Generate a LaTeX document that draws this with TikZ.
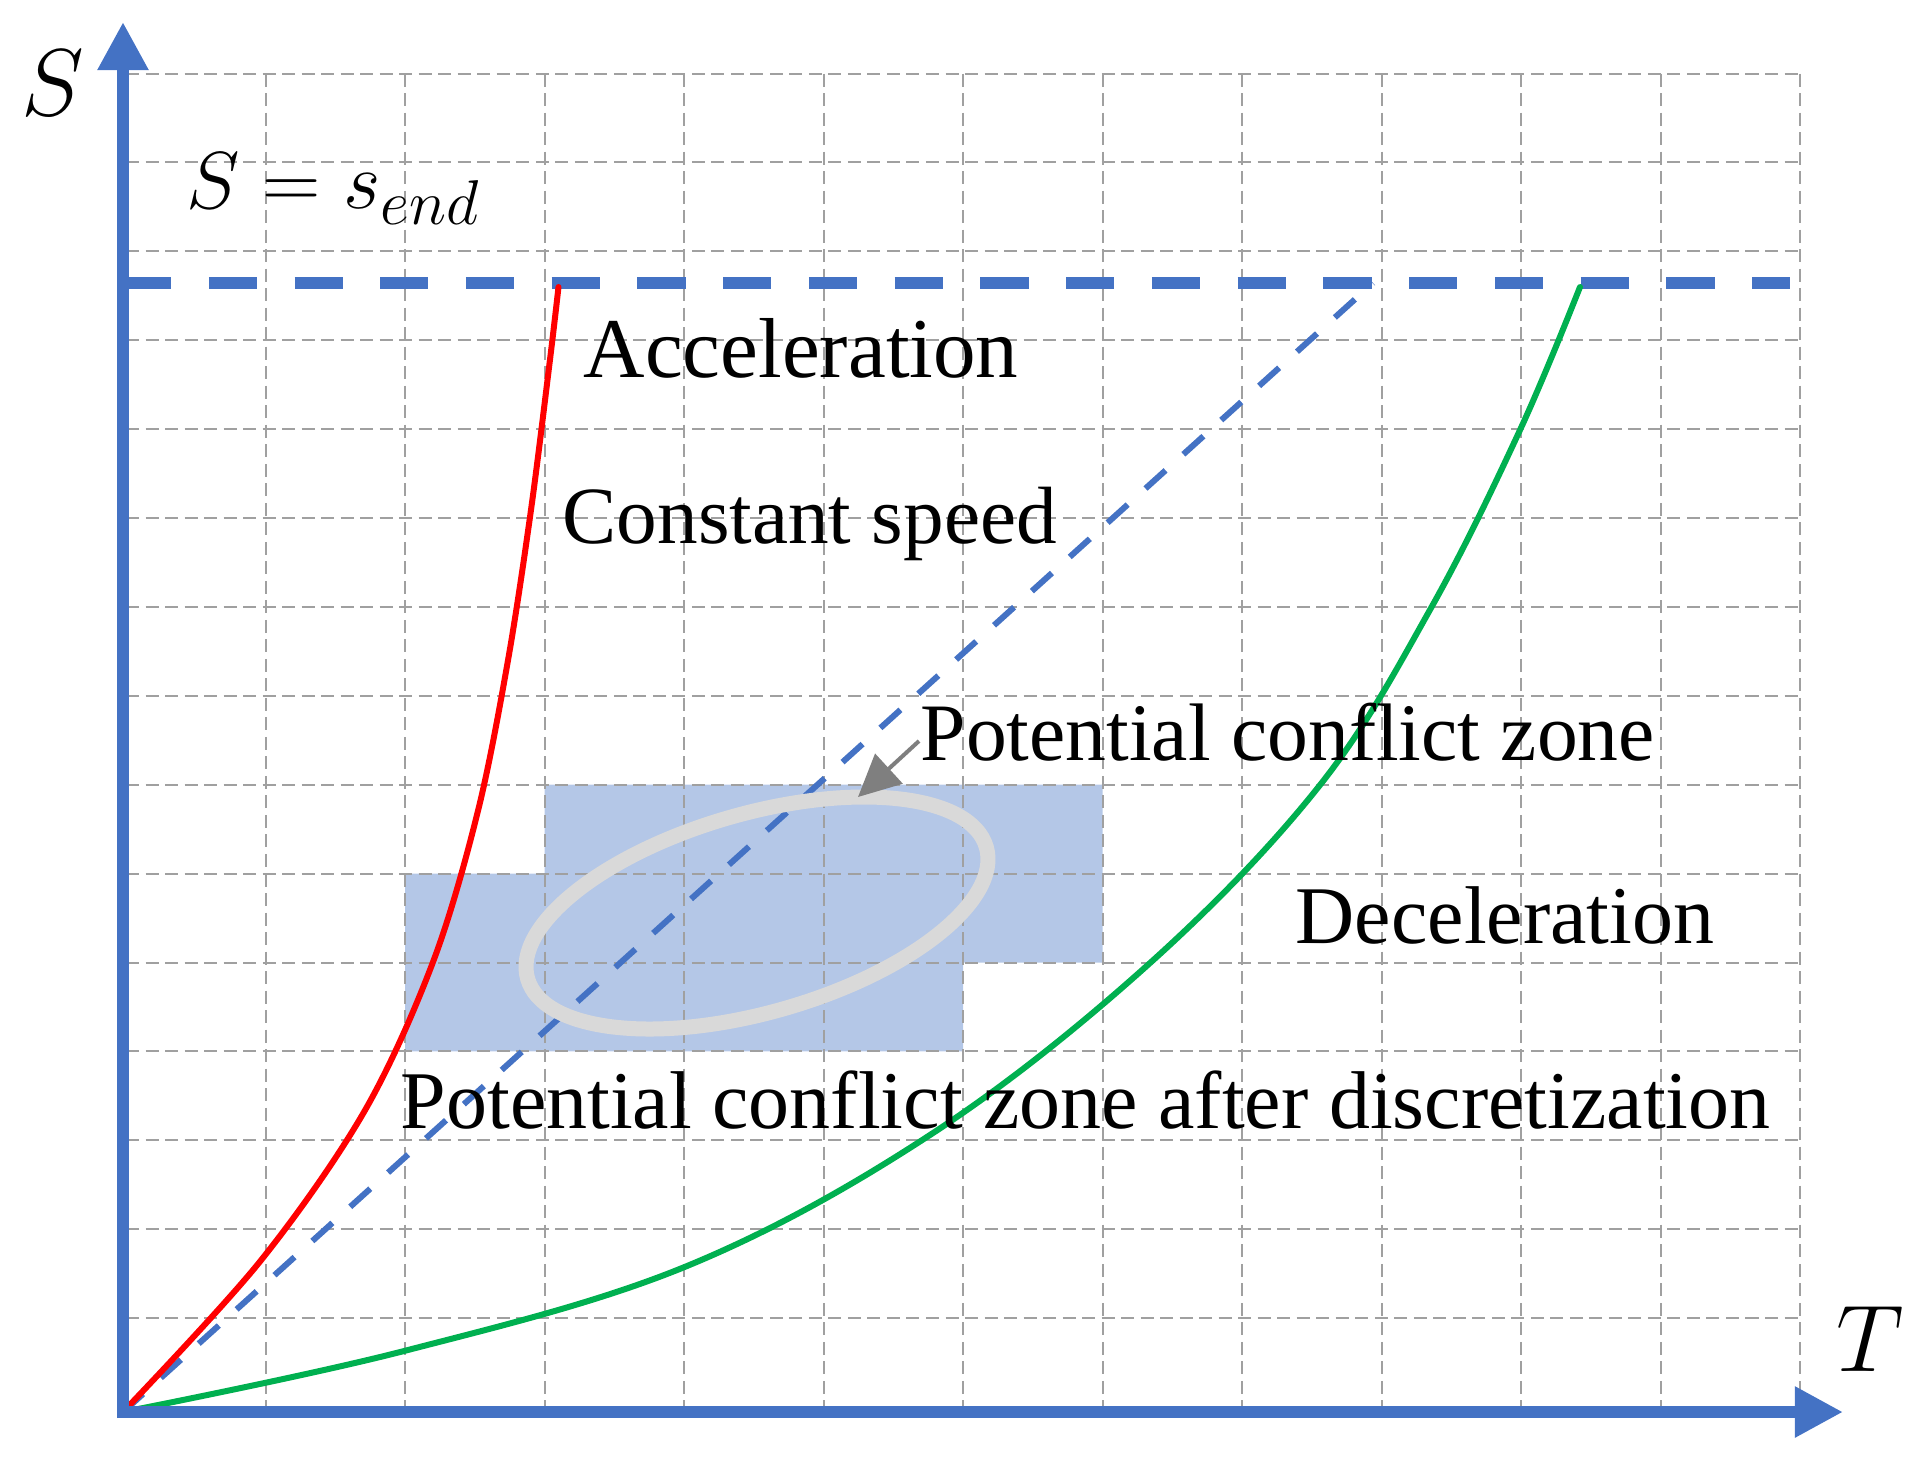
\documentclass[tikz,border=0pt]{standalone}
\usepackage{fix-cm}
\usepackage{fontspec}
\setmainfont{Liberation Serif}
\DeclareMathSizes{23}{23}{18}{13}
\usetikzlibrary{arrows.meta}
\definecolor{axblue}{HTML}{4472C4}
\definecolor{zonefill}{HTML}{B4C7E7}
\definecolor{ringgray}{HTML}{D9D9D9}
\definecolor{gridgray}{HTML}{A0A0A0}
\definecolor{accred}{HTML}{FF0000}
\definecolor{decgreen}{HTML}{00B050}
\definecolor{arrgray}{HTML}{7F7F7F}
\begin{document}
\begin{tikzpicture}[x=0.01cm,y=-0.01cm,
  gridline/.style={draw=gridgray, line width=0.02cm, dash pattern=on 0.13cm off 0.065cm},
  axisline/.style={draw=axblue, line width=0.115cm, -{Triangle[length=0.48cm,width=0.48cm]}},
  lbl/.style={inner sep=0pt, anchor=base west, font=\fontsize{23.3}{28}\selectfont},
  mathlbl/.style={inner sep=0pt, anchor=base west, font=\fontsize{27}{32}\selectfont},
  curve/.style={line width=0.06cm, line join=round, line cap=round}]
\useasboundingbox (0,0) rectangle (1917,1462);

% named coordinates
\coordinate (O) at (123,1412);
\coordinate (ytip) at (123,22);
\coordinate (ybot) at (123,1418);
\coordinate (xleft) at (117,1412);
\coordinate (xtip) at (1843,1412);
\coordinate (sendL) at (123,283);
\coordinate (sendR) at (1790,283);
\coordinate (csEnd) at (1373,283);
\coordinate (ellC) at (757,913);
\coordinate (arrS) at (919,741);
\coordinate (arrE) at (858,797);

% discretized conflict zone
\fill[zonefill] (544.5,784.7) -- (1102.5,784.7) -- (1102.5,962.5) -- (963,962.5)
  -- (963,1051.4) -- (405,1051.4) -- (405,873.6) -- (544.5,873.6) -- cycle;

% grid
\foreach \i in {1,...,12} \draw[gridline] ({126+139.5*\i},73.5) -- ({126+139.5*\i},1407);
\foreach \j in {0,...,14} \draw[gridline] (126,{73.5+88.9*\j}) -- (1800,{73.5+88.9*\j});

% S = s_end line
\draw[axblue, line width=0.12cm, dash pattern=on 0.48cm off 0.377cm] (sendL) -- (sendR);

% constant speed
\draw[axblue, line width=0.06cm, dash pattern=on 0.27cm off 0.24cm] (O) -- (csEnd);

% potential conflict zone ellipse
\draw[ringgray, line width=0.15cm, rotate around={16:(ellC)}] (ellC) ellipse [x radius=238.6, y radius=99.4];

% acceleration
\draw[accred, curve] plot[smooth, tension=0.55] coordinates {
  (123,1412) (259.6,1262) (364,1112) (433,962) (477.7,812) (507.7,662)
  (530.7,512) (549.7,362) (558.5,287)};

% deceleration
\draw[decgreen, curve] plot[smooth, tension=0.6] coordinates {
  (123,1412) (404,1351) (687,1266) (933,1133) (1150,963) (1320,785)
  (1431,608) (1520,430) (1580,287)};

% pointer arrow
\draw[arrgray, line width=0.04cm, -{Triangle[length=0.42cm,width=0.40cm]}] (arrS) -- (arrE);

% axes
\draw[axisline] (ybot) -- (ytip);
\draw[axisline] (xleft) -- (xtip);

% labels
\node[mathlbl] (Slab) at (21,115) {$S$};
\node[mathlbl] (Tlab) at (1836,1371) {$T$};
\node[inner sep=0pt, anchor=base west, font=\fontsize{23}{28}\selectfont] (sendlab) at (186,208) {$S=s_{end}$};
\node[lbl, font=\fontsize{24.2}{29}\selectfont] (acc) at (583,377) {Acceleration};
\node[lbl, font=\fontsize{23.1}{28}\selectfont] (cs) at (562,543) {Constant speed};
\node[lbl, font=\fontsize{23.2}{28}\selectfont] (pcz) at (920,760) {Potential conflict zone};
\node[lbl] (dec) at (1295,943) {Deceleration};
\node[lbl] (pczd) at (400,1128) {Potential conflict zone after discretization};
\end{tikzpicture}
\end{document}
